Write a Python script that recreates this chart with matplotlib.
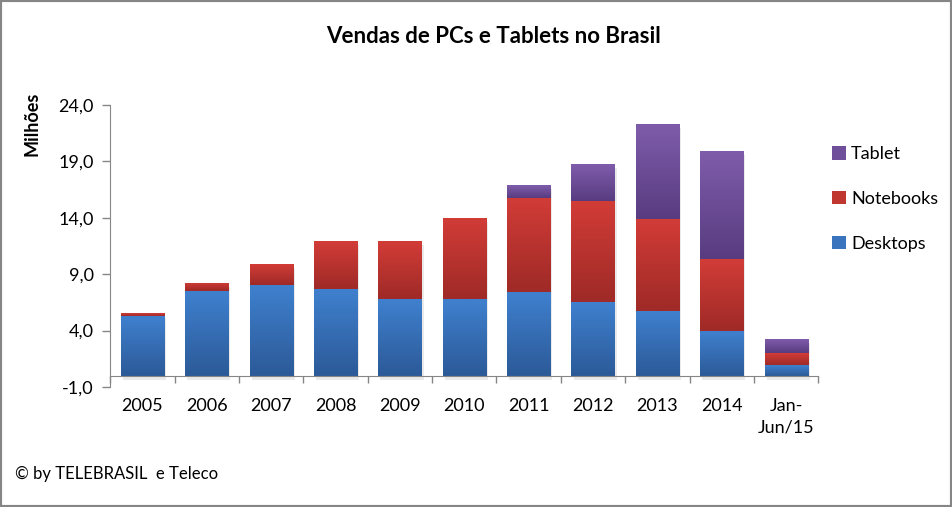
import numpy as np
import matplotlib
matplotlib.use("Agg")
import matplotlib.pyplot as plt
from matplotlib.colors import LinearSegmentedColormap
from matplotlib.patches import Rectangle, Patch
import matplotlib.patheffects as pe

# === Data (milhões de unidades) ===
CATEGORIES = ["2005", "2006", "2007", "2008", "2009", "2010", "2011",
              "2012", "2013", "2014", "Jan-\nJun/15"]
DESKTOPS = [5.30, 7.51, 8.05, 7.69, 6.80, 6.80, 7.43, 6.54, 5.74, 3.96, 0.95]
NOTEBOOKS = [0.23, 0.71, 1.86, 4.23, 5.12, 7.19, 8.34, 8.96, 8.17, 6.37, 1.06]
TABLETS = [0.0, 0.0, 0.0, 0.0, 0.0, 0.0, 1.12, 3.26, 8.43, 9.58, 1.24]
Y_TICKS = [-1, 4, 9, 14, 19, 24]

# (top, bottom, legend) colours per series
COLORS = {
    "Desktops": ("#3F80CE", "#2C5A98", "#3A74BE"),
    "Notebooks": ("#D23C37", "#9F2A27", "#C0372F"),
    "Tablet": ("#7F5CAB", "#583C80", "#6F4E9A"),
}
FONT = "Lato"
GREY = "#868686"
# ====================


def gradient_fill(ax, patches, top, bottom):
    """Paint a vertical gradient inside every bar patch."""
    cmap = LinearSegmentedColormap.from_list("g", [bottom, top])
    grad = np.linspace(0, 1, 64).reshape(-1, 1)
    for p in patches:
        x0, y0 = p.get_x(), p.get_y()
        w, h = p.get_width(), p.get_height()
        if h <= 0:
            continue
        im = ax.imshow(grad, cmap=cmap, origin="lower", aspect="auto",
                       extent=(x0, x0 + w, y0, y0 + h),
                       interpolation="bilinear", zorder=3)
        im.set_clip_path(p)


def main():
    plt.rcParams["font.family"] = [FONT, "DejaVu Sans"]
    fig = plt.figure(figsize=(9.52, 5.07), dpi=100)
    ax = fig.add_axes([110.3 / 952, 120 / 507, 708 / 952, 282 / 507])

    x = np.arange(len(CATEGORIES))
    desk = np.array(DESKTOPS)
    note = np.array(NOTEBOOKS)
    tab = np.array(TABLETS)
    total = desk + note + tab
    width = 0.67

    # soft shadow behind each stack
    ax.bar(x, total, width, color="none", zorder=1,
           path_effects=[pe.SimplePatchShadow(offset=(1.5, -3), shadow_rgbFace="0.6", alpha=0.2)])

    series = [("Desktops", desk, np.zeros_like(desk)),
              ("Notebooks", note, desk),
              ("Tablet", tab, desk + note)]
    for name, vals, bottom in series:
        top_c, bot_c, _ = COLORS[name]
        bars = ax.bar(x, vals, width, bottom=bottom, color=bot_c, zorder=2, linewidth=0)
        gradient_fill(ax, bars.patches, top_c, bot_c)

    ax.set_xlim(-0.5, len(CATEGORIES) - 0.5)
    ax.set_ylim(-1, 24)

    # axes styling
    for s in ["top", "right"]:
        ax.spines[s].set_visible(False)
    ax.spines["bottom"].set_position(("data", 0))
    ax.spines["bottom"].set_color(GREY)
    ax.spines["left"].set_color(GREY)
    ax.spines["bottom"].set_zorder(4)

    ax.set_yticks(Y_TICKS)
    ax.set_yticklabels([f"{v:.1f}".replace(".", ",") for v in Y_TICKS])
    ax.tick_params(axis="y", length=6, width=1, color=GREY, pad=6, labelsize=13)

    ax.set_xticks(x)
    ax.set_xticklabels(CATEGORIES, linespacing=1.45)
    ax.set_xticks(np.arange(len(CATEGORIES) + 1) - 0.5, minor=True)
    ax.tick_params(axis="x", which="major", length=0, pad=16, labelsize=13)
    ax.tick_params(axis="x", which="minor", length=5, width=1, color=GREY)
    for lab in ax.get_xticklabels():
        lab.set_verticalalignment("top")

    fig.suptitle("Vendas de PCs e Tablets no Brasil", x=0.518, y=1 - 26 / 507,
                 fontsize=16, fontweight="bold", va="top")
    fig.text(32 / 952, 1 - 124 / 507, "Milhões", rotation=90, fontsize=13,
             fontweight="bold", ha="center", va="center")
    fig.text(15 / 952, 1 - 474 / 507, "© by TELEBRASIL  e Teleco", fontsize=12,
             ha="left", va="center")

    handles = [Patch(facecolor=COLORS[n][2], label=n) for n in ["Tablet", "Notebooks", "Desktops"]]
    fig.legend(handles=handles, loc="upper left", bbox_to_anchor=(825 / 952, 1 - 139 / 507),
               frameon=False, fontsize=13, handlelength=0.75, handleheight=0.75,
               handletextpad=0.3, labelspacing=1.6, borderaxespad=0)

    fig.add_artist(Rectangle((0, 0), 1, 1, transform=fig.transFigure, fill=False,
                             edgecolor=GREY, linewidth=3))

    fig.savefig("out.png", dpi=100)


if __name__ == "__main__":
    main()
